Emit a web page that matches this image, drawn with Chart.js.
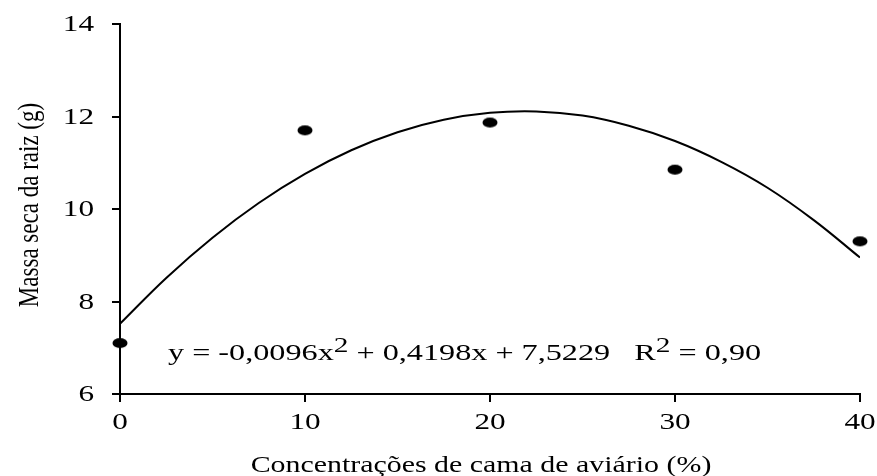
<!DOCTYPE html>
<html>
<head>
<meta charset="utf-8">
<script src="https://cdn.jsdelivr.net/npm/chart.js@4"></script>
<style>
  html, body { margin: 0; padding: 0; background: #fff; }
  #wrap { width: 877px; height: 476px; }
</style>
</head>
<body>
<div id="wrap"><canvas id="chart" width="877" height="476"></canvas></div>
<script>
// observed means
const doses = [0, 10, 20, 30, 40];
const massa = [7.1, 11.7, 11.87, 10.85, 9.3];

// fitted curve
const curveX = [0, 2.5, 5, 7.5, 10, 12.5, 15, 17.5, 20, 22.5, 25, 27.5, 30, 32.5, 35, 37.5, 40];
const curveY = [7.52, 8.51, 9.38, 10.13, 10.76, 11.27, 11.66, 11.93, 12.08, 12.11, 12.02, 11.80, 11.47, 11.02, 10.46, 9.76, 8.95];

const xTicks = [0, 10, 20, 30, 40];
const yTicks = [6, 8, 10, 12, 14];

const xTitle = 'Concentrações de cama de aviário (%)';
const yTitle = 'Massa seca da raiz (g)';
const FONT = '"Liberation Serif", "Times New Roman", serif';
// the original figure is stretched sideways, so is its text
const STRETCH = 1.3;

function makeDot() {
  const c = document.createElement('canvas');
  c.width = 16; c.height = 12;
  const g = c.getContext('2d');
  g.fillStyle = '#000';
  g.beginPath();
  g.ellipse(8, 6, 7.5, 5, 0, 0, Math.PI * 2);
  g.fill();
  return c;
}

function putText(ctx, text, x, y, size, align, baseline, sx) {
  ctx.save();
  ctx.translate(x, y);
  ctx.scale(sx, 1);
  ctx.font = size + 'px ' + FONT;
  ctx.textAlign = align;
  ctx.textBaseline = baseline;
  ctx.fillText(text, 0, 0);
  ctx.restore();
}

const textPlugin = {
  id: 'texts',
  afterDraw(chart) {
    const ctx = chart.ctx;
    const xs = chart.scales.x, ys = chart.scales.y;
    const area = chart.chartArea;
    ctx.save();
    ctx.fillStyle = '#000';

    yTicks.forEach(v => putText(ctx, String(v), 94, ys.getPixelForValue(v) + 1, 24, 'right', 'middle', STRETCH));
    xTicks.forEach(v => putText(ctx, String(v), xs.getPixelForValue(v), area.bottom + 29, 24, 'center', 'middle', STRETCH));
    putText(ctx, xTitle, (area.left + area.right) / 2 - 9, area.bottom + 72, 23, 'center', 'middle', STRETCH);

    // y title, rotated
    ctx.save();
    ctx.translate(30, (area.top + area.bottom) / 2 - 4);
    ctx.rotate(-Math.PI / 2);
    ctx.scale(1, STRETCH);
    ctx.font = '23px ' + FONT;
    ctx.textAlign = 'center';
    ctx.textBaseline = 'middle';
    ctx.fillText(yTitle, 0, 0);
    ctx.restore();

    // regression equation
    const parts = [
      ['y = -0,0096x', 23, 0],
      ['2', 21, -8],
      [' + 0,4198x + 7,5229   R', 23, 0],
      ['2', 21, -8],
      [' = 0,90', 23, 0],
    ];
    let x = xs.getPixelForValue(0) + 48;
    const base = 360;
    const sx = 1.4;
    parts.forEach(([t, size, dy]) => {
      putText(ctx, t, x, base + dy, size, 'left', 'alphabetic', sx);
      ctx.font = size + 'px ' + FONT;
      x += ctx.measureText(t).width * sx;
    });
    ctx.restore();
  }
};

new Chart(document.getElementById('chart'), {
  type: 'scatter',
  data: {
    datasets: [
      {
        label: 'ajuste',
        type: 'line',
        data: curveX.map((x, i) => ({ x, y: curveY[i] })),
        borderColor: '#000',
        borderWidth: 2,
        pointRadius: 0,
        tension: 0.4,
        fill: false,
      },
      {
        label: 'observado',
        data: doses.map((x, i) => ({ x, y: massa[i] })),
        pointStyle: makeDot(),
        backgroundColor: '#000',
        clip: false,
      },
    ],
  },
  options: {
    responsive: false,
    animation: false,
    layout: { padding: { top: 24, right: 17, bottom: 0, left: 0 } },
    plugins: { legend: { display: false }, tooltip: { enabled: false } },
    scales: {
      x: {
        type: 'linear', min: 0, max: 40,
        afterBuildTicks: s => { s.ticks = xTicks.map(v => ({ value: v })); },
        afterFit: s => { s.height = 82; },
        ticks: { display: false },
        grid: { drawOnChartArea: false, drawTicks: true, tickLength: 8, color: '#000', lineWidth: 2 },
        border: { color: '#000', width: 2 },
      },
      y: {
        min: 6, max: 14,
        afterBuildTicks: s => { s.ticks = yTicks.map(v => ({ value: v })); },
        afterFit: s => { s.width = 120; },
        ticks: { display: false },
        grid: { drawOnChartArea: false, drawTicks: true, tickLength: 8, color: '#000', lineWidth: 2 },
        border: { color: '#000', width: 2 },
      },
    },
  },
  plugins: [textPlugin],
});
</script>
</body>
</html>
